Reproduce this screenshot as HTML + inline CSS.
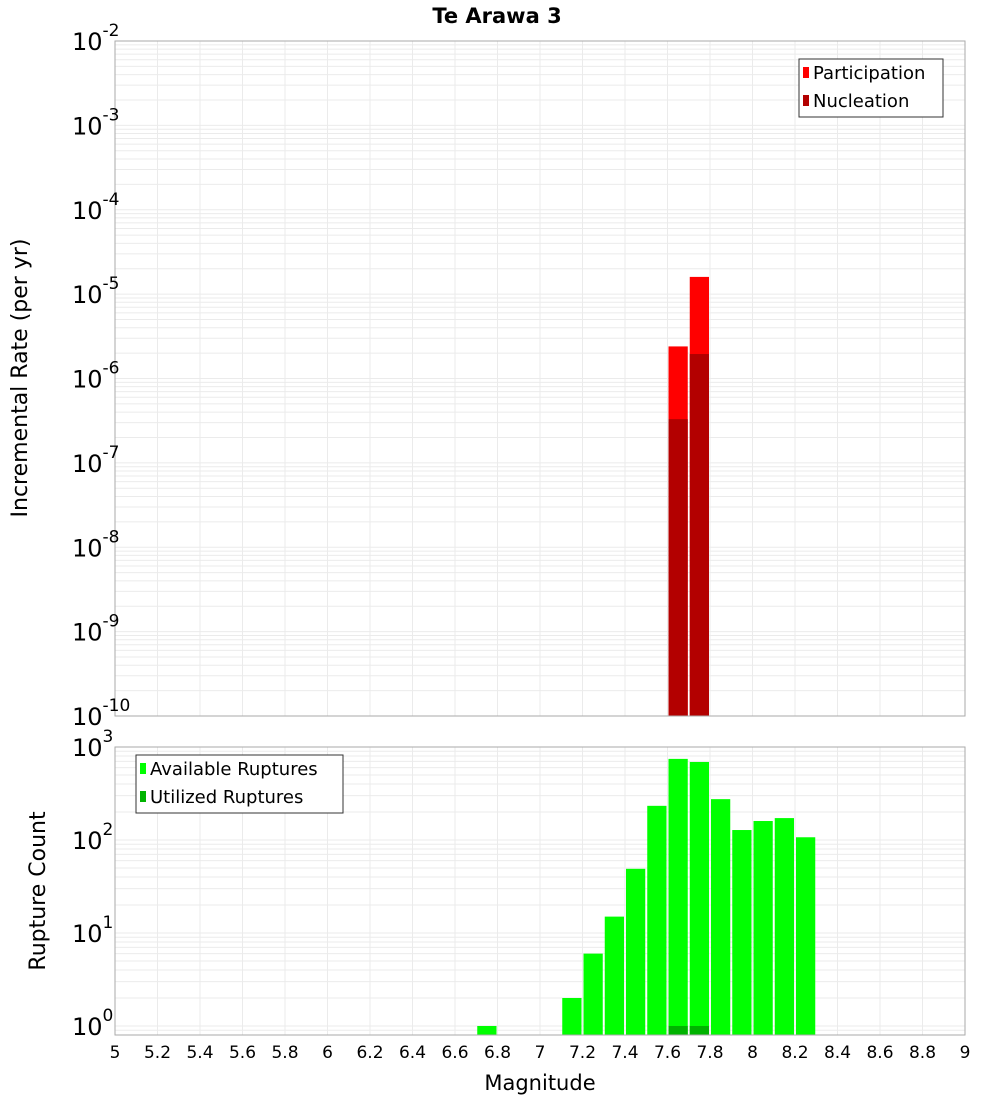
<!DOCTYPE html>
<html><head><meta charset="utf-8"><style>
body{margin:0;background:#fff;width:1000px;height:1100px;overflow:hidden}
svg{font-family:"DejaVu Sans","Liberation Sans",sans-serif}
</style></head><body>
<svg id="c" width="1000" height="1100" xmlns="http://www.w3.org/2000/svg">
<text x="497" y="23" text-anchor="middle" font-size="21" font-weight="bold">Te Arawa 3</text>
<text transform="translate(27,378) rotate(-90)" text-anchor="middle" font-size="22">Incremental Rate (per yr)</text>
<text transform="translate(45,891) rotate(-90)" text-anchor="middle" font-size="22">Rupture Count</text>
<text x="540" y="1090" text-anchor="middle" font-size="21">Magnitude</text>
<g id="g"></g>
</svg>
<script>
const binCenters=[7.65,7.75];
const participation=[2.4e-6,1.6e-5];
const nucleation=[3.3e-7,1.95e-6];
const countCenters=[6.75,7.15,7.25,7.35,7.45,7.55,7.65,7.75,7.85,7.95,8.05,8.15,8.25];
const available=[1,2,6,15,49,233,745,690,275,128,160,172,107];
const utilCenters=[7.65,7.75];
const utilized=[1,1];
const xTicks=[5,5.2,5.4,5.6,5.8,6,6.2,6.4,6.6,6.8,7,7.2,7.4,7.6,7.8,8,8.2,8.4,8.6,8.8,9];
const topExps=[-10,-9,-8,-7,-6,-5,-4,-3,-2];
const botExps=[0,1,2,3];

const NS="http://www.w3.org/2000/svg",g=document.getElementById('g');
const X0=115,X1=965;
const x=v=>X0+(v-5)/4*(X1-X0);
const T0=716,T1=41,yT=v=>T0-(Math.log10(v)+10)/8*(T0-T1);
const B0=1035,B1=747,bmin=Math.log10(0.8),yB=v=>B0-(Math.log10(v)-bmin)/(3-bmin)*(B0-B1);
function el(t,a,p){const e=document.createElementNS(NS,t);for(const k in a)e.setAttribute(k,a[k]);(p||g).appendChild(e);return e;}
function grid(yf,lo,hi,top,bot){
 for(let d=lo;d<hi;d++)for(let m=1;m<10;m++){const yy=yf(m*Math.pow(10,d));if(yy<top-0.5||yy>bot+0.5)continue;
  const l=el('line',{x1:X0,x2:X1,y1:yy,y2:yy,stroke:'#ebebeb','stroke-width':1});
  
  }
 xTicks.forEach(t=>{const l=el('line',{x1:x(t),x2:x(t),y1:top,y2:bot,stroke:'#ebebeb','stroke-width':1});
  
  });
}
grid(yT,-10,-1,T1,T0);
grid(yB,-1,3,B1,B0);
const bw=(x(0.1)-x(0))-2;
participation.forEach((v,i)=>{const r=el('rect',{x:x(binCenters[i]-0.05)+1,y:yT(v),width:bw,height:T0-yT(v),fill:'#ff0000'});
 
 });
nucleation.forEach((v,i)=>{const r=el('rect',{x:x(binCenters[i]-0.05)+1,y:yT(v),width:bw,height:T0-yT(v),fill:'#b30000'});
 
 });
available.forEach((v,i)=>{const r=el('rect',{x:x(countCenters[i]-0.05)+1,y:yB(v),width:bw,height:B0-yB(v),fill:'#00ff00'});
 
 });
utilized.forEach((v,i)=>{const r=el('rect',{x:x(utilCenters[i]-0.05)+1,y:yB(v),width:bw,height:B0-yB(v),fill:'#00b300'});
 
 });
[[T1,T0],[B1,B0]].forEach(([a,b])=>{const r=el('rect',{x:X0,y:a,width:X1-X0,height:b-a,fill:'none',stroke:'#aaaaaa'});
 
 });
topExps.forEach(e=>{const t=el('text',{x:72,y:yT(Math.pow(10,e))+9,'font-size':24});
 
 
 t.textContent='10';const s=el('tspan',{dy:-14,'font-size':17},t);s.textContent=String(e);});
botExps.forEach(e=>{const t=el('text',{x:72,y:yB(Math.pow(10,e))+9,'font-size':24});
 
 
 t.textContent='10';const s=el('tspan',{dy:-14,'font-size':17},t);s.textContent=String(e);});
xTicks.forEach(v=>{const t=el('text',{x:x(v),y:1058,'text-anchor':'middle','font-size':17});
 
 
 t.textContent=String(v);});
function legend(lx,ly,w,items,name){const gg=el('g',{});
 
 
 el('rect',{x:lx,y:ly,width:w,height:58,fill:'#fff',stroke:'#333'},gg);
 items.forEach(([lab,c],i)=>{el('rect',{x:lx+4,y:ly+8+i*28,width:6,height:11,fill:c},gg);
  const t=el('text',{x:lx+14,y:ly+20+i*28,'font-size':18},gg);t.textContent=lab;});}
legend(799,59,144,[['Participation','#ff0000'],['Nucleation','#b30000']],'top-legend');
legend(136,755,207,[['Available Ruptures','#00ff00'],['Utilized Ruptures','#00b300']],'bottom-legend');
</script>
</body></html>
